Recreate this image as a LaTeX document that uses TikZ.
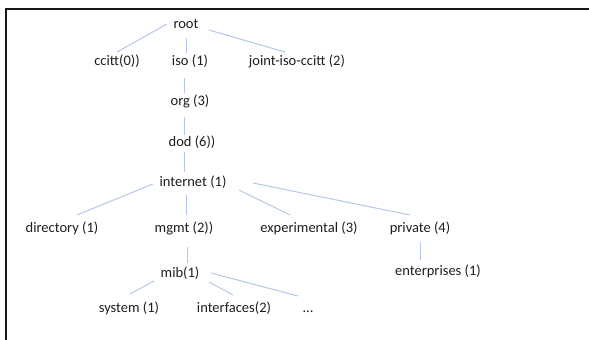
\documentclass[tikz,border=0pt]{standalone}
\usepackage{fontspec}
\setmainfont{Carlito}
\definecolor{lk}{RGB}{180,199,231}
\definecolor{tx}{RGB}{30,30,30}
\begin{document}
\begin{tikzpicture}[x=1pt,y=-1pt,
  lbl/.style={inner sep=0pt, font=\fontsize{14.5}{16}\selectfont, text=tx, text height=9pt, text depth=3pt},
  conn/.style={draw=lk, line width=1pt},
  frame/.style={draw=black!90, line width=2pt}]
\useasboundingbox (0,0) rectangle (589,340);
\draw[frame] (6,340) -- (6,9) -- (589,9);
% nodes
\node[lbl] (root) at (186,25) {root};
\node[lbl] (ccitt) at (117,62) {ccitt(0))};
\node[lbl] (iso) at (190,62) {iso (1)};
\node[lbl] (joint) at (297,62) {joint-iso-ccitt (2)};
\node[lbl] (org) at (190,102) {org (3)};
\node[lbl] (dod) at (192,143) {dod (6))};
\node[lbl] (internet) at (193,183) {internet (1)};
\node[lbl] (directory) at (62,229) {directory (1)};
\node[lbl] (mgmt) at (184,229) {mgmt (2))};
\node[lbl] (experimental) at (309,229) {experimental (3)};
\node[lbl] (private) at (420,229) {private (4)};
\node[lbl] (mib) at (180,274) {mib(1)};
\node[lbl] (enterprises) at (438,272) {enterprises (1)};
\node[lbl] (system) at (129,309) {system (1)};
\node[lbl] (interfaces) at (234,309) {interfaces(2)};
\node[lbl] (dots) at (308,309) {...};
% connectors
\draw[conn] ([shift={(-19,-1)}]root.center) -- ([shift={(0,-10)}]ccitt.center);
\draw[conn] ([shift={(0,13)}]root.center) -- ([shift={(-4,-9)}]iso.center);
\draw[conn] ([shift={(23,5)}]root.center) -- ([shift={(-12,-10)}]joint.center);
\draw[conn] ([shift={(-6,16)}]iso.center) -- ([shift={(-6,-9)}]org.center);
\draw[conn] ([shift={(-6,15)}]org.center) -- ([shift={(-8,-8)}]dod.center);
\draw[conn] ([shift={(-8,9)}]dod.center) -- ([shift={(-9,-11)}]internet.center);
\draw[conn] ([shift={(-40,1)}]internet.center) -- ([shift={(15,-14)}]directory.center);
\draw[conn] ([shift={(-7,12)}]internet.center) -- ([shift={(2,-14)}]mgmt.center);
\draw[conn] ([shift={(46,7)}]internet.center) -- ([shift={(-19,-14)}]experimental.center);
\draw[conn] ([shift={(60,0)}]internet.center) -- ([shift={(-10,-14)}]private.center);
\draw[conn] ([shift={(3,18)}]mgmt.center) -- ([shift={(7,-11)}]mib.center);
\draw[conn] ([shift={(0,13)}]private.center) -- ([shift={(-18,-12)}]enterprises.center);
\draw[conn] ([shift={(-26,7)}]mib.center) -- ([shift={(1,-15)}]system.center);
\draw[conn] ([shift={(29,8)}]mib.center) -- ([shift={(-1,-14)}]interfaces.center);
\draw[conn] ([shift={(31,-1)}]mib.center) -- ([shift={(-10,-13)}]dots.center);
\end{tikzpicture}
\end{document}
